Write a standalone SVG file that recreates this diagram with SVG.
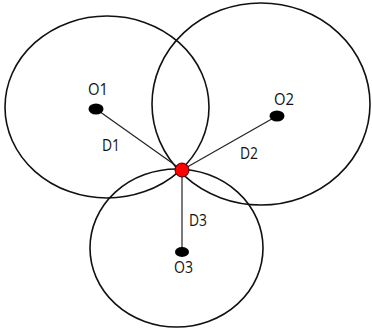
<svg xmlns="http://www.w3.org/2000/svg" width="372" height="329" viewBox="0 0 372 329">
<style>
.ring{fill:none;stroke:#111;stroke-width:1.6}
.link{stroke:#222;stroke-width:1.2}
.dot{fill:#000}
.lbl{font-family:"Open Sans","Liberation Sans",sans-serif;font-size:17px;fill:#111}
</style>
<rect width="372" height="329" fill="#fff"/>
<g id="circles">
<ellipse id="circle1" class="ring" cx="107" cy="107" rx="102" ry="91"/>
<ellipse id="circle2" class="ring" cx="261" cy="104" rx="109" ry="101"/>
<ellipse id="circle3" class="ring" cx="176.5" cy="248" rx="86.5" ry="79"/>
</g>
<g id="connectors">
<line class="link" x1="96" y1="109" x2="182" y2="170"/>
<line class="link" x1="277" y1="116" x2="182" y2="170"/>
<line class="link" x1="182" y1="170" x2="182" y2="252"/>
</g>
<g id="O1"><ellipse class="dot" cx="96" cy="109" rx="7.5" ry="5.5"/><text class="lbl" x="88" y="95" textLength="20" lengthAdjust="spacingAndGlyphs">O1</text></g>
<g id="O2"><ellipse class="dot" cx="277" cy="116" rx="7.5" ry="5.5"/><text class="lbl" x="274" y="105" textLength="20" lengthAdjust="spacingAndGlyphs">O2</text></g>
<g id="O3"><ellipse class="dot" cx="182" cy="252" rx="7" ry="5"/><text class="lbl" x="174" y="273" textLength="19" lengthAdjust="spacingAndGlyphs">O3</text></g>
<g id="P"><circle cx="182" cy="170" r="7" fill="#f00" stroke="#400" stroke-width="1"/></g>
<g id="labels">
<text class="lbl" x="102" y="151" textLength="18" lengthAdjust="spacingAndGlyphs">D1</text>
<text class="lbl" x="240" y="159" textLength="18" lengthAdjust="spacingAndGlyphs">D2</text>
<text class="lbl" x="189" y="226" textLength="18" lengthAdjust="spacingAndGlyphs">D3</text>
</g>
</svg>
